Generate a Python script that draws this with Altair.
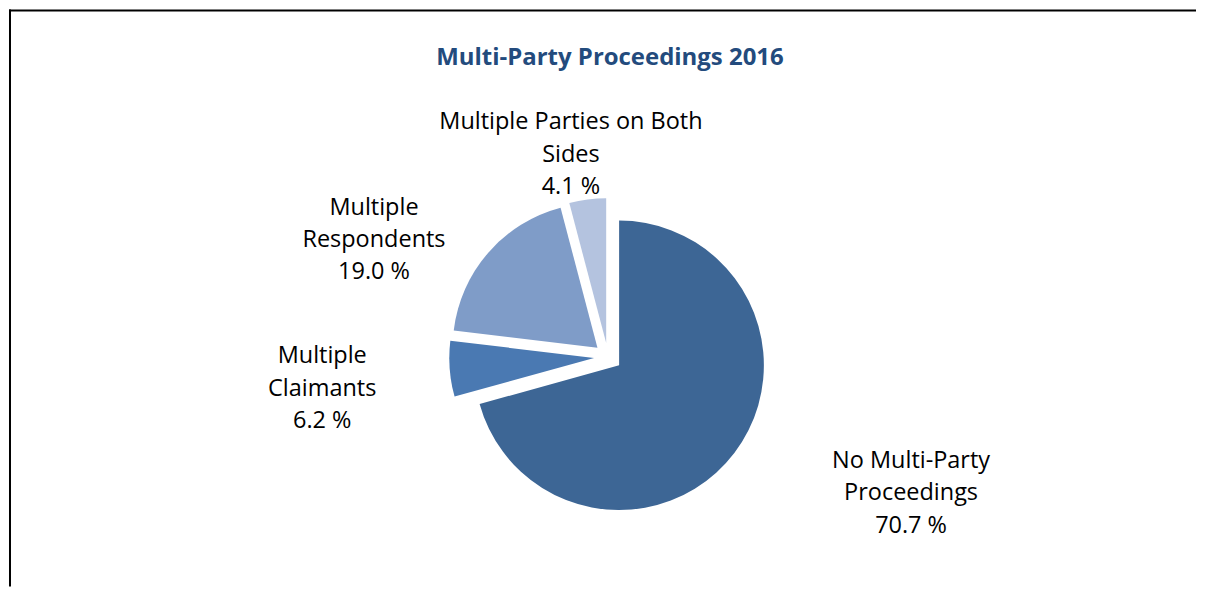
import altair as alt
import pandas as pd

# ---- data ----
categories = [
    "No Multi-Party Proceedings",
    "Multiple Claimants",
    "Multiple Respondents",
    "Multiple Parties on Both Sides",
]
label_text = [
    "No Multi-Party\nProceedings",
    "Multiple\nClaimants",
    "Multiple\nRespondents",
    "Multiple Parties on Both\nSides",
]
values = [70.7, 6.2, 19.0, 4.1]
colors = ["#3D6695", "#4A79B2", "#7F9CC8", "#B4C3DF"]

title_text = "Multi-Party Proceedings 2016"

df = pd.DataFrame({
    "category": categories,
    "label": label_text,
    "value": values,
    "order": list(range(len(categories))),
})

# ---- layout ----
W, H = 1189, 578
CX, CY = 600, 348          # pie centre inside the plot area
RADIUS = 145
EXPLODE = 14
LINE_H = 32.5
LABEL_DIST = [333, 288, 262, 206]
LABEL_TURN = [-13, -2, -14.5, -3]   # degrees

xscale = alt.Scale(domain=[-CX, W - CX], range=[0, W], nice=False, zero=False)
yscale = alt.Scale(domain=[-(H - CY), CY], range=[H, 0], nice=False, zero=False)

base = alt.Chart(df).transform_window(
    cum="sum(value)", sort=[alt.SortField("order")], frame=[None, 0]
).transform_calculate(
    start="datum.cum - datum.value",
    mid="(datum.cum - datum.value / 2) / 100 * 2 * PI",
    dx=f"{EXPLODE} * sin(datum.mid)",
    dy=f"{EXPLODE} * cos(datum.mid)",
    lang=f"datum.mid + {LABEL_TURN}[datum.order] * PI / 180",
    lx=f"{LABEL_DIST}[datum.order] * sin(datum.lang)",
    ly=f"{LABEL_DIST}[datum.order] * cos(datum.lang)",
    txt="datum.label + '\\n' + format(datum.value, '.1f') + ' %'",
)

pie = base.mark_arc(outerRadius=RADIUS, stroke=None).encode(
    x=alt.X("dx:Q", scale=xscale, axis=None),
    y=alt.Y("dy:Q", scale=yscale, axis=None),
    theta=alt.Theta("start:Q", scale=alt.Scale(domain=[0, 100]), stack=None),
    theta2="cum:Q",
    color=alt.Color("category:N", scale=alt.Scale(domain=categories, range=colors), legend=None),
)

labels = base.mark_text(
    font="Open Sans", fontSize=23.5, color="#000000", lineBreak="\n", lineHeight=LINE_H,
    align="center", baseline="middle", dy=-LINE_H,
).encode(
    x=alt.X("lx:Q", scale=xscale, axis=None),
    y=alt.Y("ly:Q", scale=yscale, axis=None),
    text="txt:N",
)

title = alt.Chart(pd.DataFrame({"t": [title_text]})).mark_text(
    font="Open Sans", fontSize=24, fontWeight="bold", color="#234B7D",
    align="center", baseline="middle",
).encode(x=alt.value(CX + 2), y=alt.value(49), text="t:N")

frame_top = alt.Chart(pd.DataFrame({"a": [0]})).mark_rule(color="#000000", strokeWidth=2).encode(
    x=alt.value(0), x2=alt.value(W), y=alt.value(1)
)
frame_left = alt.Chart(pd.DataFrame({"a": [0]})).mark_rule(color="#000000", strokeWidth=2).encode(
    x=alt.value(1), y=alt.value(0), y2=alt.value(H)
)

chart = alt.layer(pie, labels, title, frame_top, frame_left).properties(
    width=W, height=H, padding=0, background="#ffffff"
).configure_view(stroke=None)

chart.save("out.html", embed_options={"renderer": "svg", "actions": False})
